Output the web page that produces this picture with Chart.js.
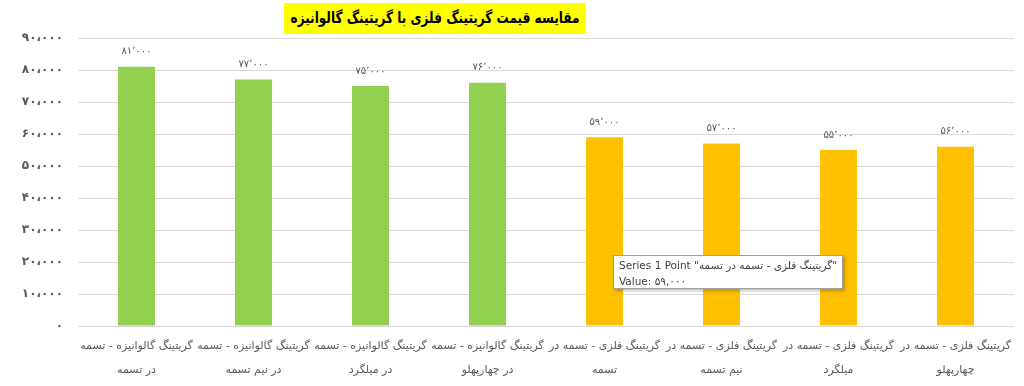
<!DOCTYPE html>
<html><head><meta charset="utf-8">
<script src="https://cdn.jsdelivr.net/npm/chart.js@4"></script>
<style>
html,body{margin:0;padding:0;background:#fff;}
#wrap{position:relative;width:1024px;height:386px;}
#title{position:absolute;left:284px;top:3px;width:302px;height:31px;background:#ffff00;z-index:2;}
#title span{position:absolute;left:50%;top:0;line-height:31px;white-space:nowrap;direction:rtl;
 font-family:"DejaVu Sans",sans-serif;font-weight:bold;font-size:15.5px;color:#000;
 transform:translateX(-50%) scaleX(0.78);transform-origin:center;}
#tip{position:absolute;left:613px;top:255px;width:230px;height:34px;background:#fff;border:1px solid #a0a0a0;
 box-shadow:2px 2px 3px rgba(0,0,0,0.25);font-family:"DejaVu Sans",sans-serif;font-size:10.5px;color:#404040;
 padding:1px 0 0 5px;box-sizing:border-box;line-height:16px;direction:ltr;white-space:nowrap;z-index:2;}
</style></head>
<body><div id="wrap">
<div id="title"><span>مقایسه قیمت گریتینگ فلزی با گریتینگ گالوانیزه</span></div>
<canvas id="c" width="1024" height="386"></canvas>
<div id="tip">Series 1 Point "<span dir="rtl">گریتینگ فلزی - تسمه در تسمه</span>"<br>Value: ۵۹,۰۰۰</div>
</div>
<script>
const categories = [
  ["گریتینگ گالوانیزه - تسمه", "در تسمه"],
  ["گریتینگ گالوانیزه - تسمه", "در نیم تسمه"],
  ["گریتینگ گالوانیزه - تسمه", "در میلگرد"],
  ["گریتینگ گالوانیزه - تسمه", "در چهارپهلو"],
  ["گریتینگ فلزی - تسمه در", "تسمه"],
  ["گریتینگ فلزی - تسمه در", "نیم تسمه"],
  ["گریتینگ فلزی - تسمه در", "میلگرد"],
  ["گریتینگ فلزی - تسمه در", "چهارپهلو"]
];
const prices = [81000, 77000, 75000, 76000, 59000, 57000, 55000, 56000];
const barColors = ["#92D050","#92D050","#92D050","#92D050","#FFC000","#FFC000","#FFC000","#FFC000"];
const yTicks = [0,10000,20000,30000,40000,50000,60000,70000,80000,90000];

function faNum(v, sep){
  const s = String(v).replace(/\B(?=(\d{3})+(?!\d))/g, sep);
  return s.replace(/\d/g, d => "۰۱۲۳۴۵۶۷۸۹"[+d]);
}

const valueLabels = {
  id:'valueLabels',
  afterDatasetsDraw(chart){
    const ctx = chart.ctx;
    const meta = chart.getDatasetMeta(0);
    ctx.save();
    ctx.font = '10px "DejaVu Sans", sans-serif';
    ctx.fillStyle = '#595959';
    ctx.textAlign = 'center';
    ctx.textBaseline = 'bottom';
    meta.data.forEach((bar,i)=>{
      ctx.fillText(faNum(prices[i],'٬'), bar.x, bar.y - 10);
    });
    ctx.restore();
  }
};

new Chart(document.getElementById('c'), {
  type:'bar',
  data:{ labels: categories, datasets:[{ data: prices, backgroundColor: barColors,
     categoryPercentage: 1, barPercentage: 0.316 }]},
  options:{
    responsive:false, animation:false,
    layout:{ padding:{ top:38, right:10, left:0, bottom:0 } },
    plugins:{ legend:{display:false}, tooltip:{enabled:false} },
    scales:{
      x:{ grid:{display:false}, border:{display:false},
          afterFit(s){ s.height = 60; },
          ticks:{ color:'#595959', maxRotation:0, autoSkip:false, padding:0,
                  font:{ family:'"DejaVu Sans", sans-serif', size:11, lineHeight:2.2 } } },
      y:{ min:0, max:90000, border:{display:false},
          afterFit(s){ s.width = 78; },
          afterBuildTicks(s){ s.ticks = yTicks.map(v=>({value:v})); },
          grid:{ color:'#d9d9d9', drawTicks:false },
          ticks:{ padding:15, color:'#595959',
                  font:{ family:'"DejaVu Sans", sans-serif', size:12, weight:'bold' },
                  callback:(v)=>faNum(v,'،') } }
    }
  },
  plugins:[valueLabels]
});
</script>
</body></html>
